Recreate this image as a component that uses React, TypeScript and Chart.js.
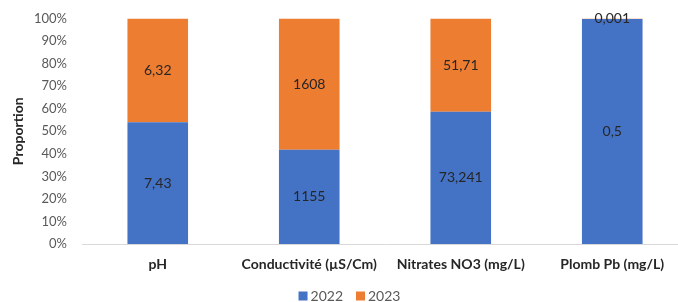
import React, { useEffect, useRef } from "react";
import { Chart, registerables } from "chart.js";

Chart.register(...registerables);

const categories = ["pH", "Conductivité (µS/Cm)", "Nitrates NO3 (mg/L)", "Plomb Pb (mg/L)"];
const values2022 = [7.43, 1155, 73.241, 0.5];
const values2023 = [6.32, 1608, 51.71, 0.001];
const labels2022 = ["7,43", "1155", "73,241", "0,5"];
const labels2023 = ["6,32", "1608", "51,71", "0,001"];
const seriesNames = ["2022", "2023"];
const yTicks = [0, 10, 20, 30, 40, 50, 60, 70, 80, 90, 100];

const FONT = "Lato";

const share = (a: number[], b: number[]) => a.map((v, i) => (v / (v + b[i])) * 100);

const overlayPlugin = {
  id: "overlay",
  afterDatasetsDraw(chart: any) {
    const ctx = chart.ctx;
    ctx.save();
    ctx.font = `14px ${FONT}`;
    ctx.fillStyle = "#262626";
    ctx.textAlign = "center";
    ctx.textBaseline = "middle";
    chart.data.datasets.forEach((ds: any, di: number) => {
      const meta = chart.getDatasetMeta(di);
      meta.data.forEach((bar: any, i: number) => {
        const y = (bar.y + bar.base) / 2;
        ctx.fillText(ds.valueLabels[i], bar.x, y);
      });
    });
    ctx.restore();
  },
  afterDraw(chart: any) {
    const ctx = chart.ctx;
    ctx.save();
    ctx.font = `14px ${FONT}`;
    ctx.textBaseline = "middle";
    ctx.textAlign = "left";
    const box = 9;
    const gap = 3;
    const itemGap = 13;
    const items = chart.data.datasets.map((ds: any) => ({
      label: ds.label,
      color: ds.backgroundColor,
      w: box + gap + ctx.measureText(ds.label).width,
    }));
    const total = items.reduce((s: number, it: any) => s + it.w, 0) + itemGap * (items.length - 1);
    let x = 349.5 - total / 2;
    const y = 296;
    items.forEach((it: any) => {
      ctx.fillStyle = it.color;
      ctx.fillRect(x, y - box / 2, box, box);
      ctx.fillStyle = "#595959";
      ctx.fillText(it.label, x + box + gap, y);
      x += it.w + itemGap;
    });
    ctx.restore();
  },
};

export default function App() {
  const ref = useRef<HTMLCanvasElement>(null);
  useEffect(() => {
    document.body.style.margin = "0";
    const chart = new Chart(ref.current!, {
      type: "bar",
      data: {
        labels: categories,
        datasets: [
          {
            label: seriesNames[0],
            data: share(values2022, values2023),
            backgroundColor: "#4472C4",
            valueLabels: labels2022,
          } as any,
          {
            label: seriesNames[1],
            data: share(values2023, values2022),
            backgroundColor: "#ED7D31",
            valueLabels: labels2023,
          } as any,
        ],
      },
      options: {
        animation: false,
        responsive: false,
        maintainAspectRatio: false,
        layout: { padding: { left: 0, right: 2, top: 18.5, bottom: 0 } },
        datasets: { bar: { barPercentage: 1, categoryPercentage: 0.4 } },
        plugins: { legend: { display: false }, tooltip: { enabled: false } },
        scales: {
          x: {
            stacked: true,
            grid: { display: false, drawTicks: false },
            border: { display: true, color: "#D9D9D9" },
            ticks: {
              padding: 12,
              color: "#262626",
              font: { family: FONT, size: 14, weight: "bold" },
              maxRotation: 0,
              autoSkip: false,
            },
            afterFit: (s: any) => {
              s.height = 58;
            },
          },
          y: {
            stacked: true,
            min: 0,
            max: 100,
            afterBuildTicks: (s: any) => {
              s.ticks = yTicks.map((v) => ({ value: v }));
            },
            grid: { display: false, drawTicks: true, tickLength: 12 },
            border: { display: false },
            ticks: {
              padding: 3,
              color: "#595959",
              font: { family: FONT, size: 13 },
              callback: (v: any) => v + "%",
            },
            title: {
              display: true,
              text: "Proportion",
              color: "#262626",
              font: { family: FONT, size: 14, weight: "bold" },
              padding: { top: 10, bottom: 0 },
            },
            afterFit: (s: any) => {
              s.width = 82;
            },
          },
        },
      },
      plugins: [overlayPlugin],
    });
    return () => chart.destroy();
  }, []);
  return (
    <div style={{ position: "absolute", left: 0, top: 0, width: 678, height: 302, overflow: "hidden" }}>
      <canvas ref={ref} width={690} height={302} style={{ display: "block" }} />
    </div>
  );
}
